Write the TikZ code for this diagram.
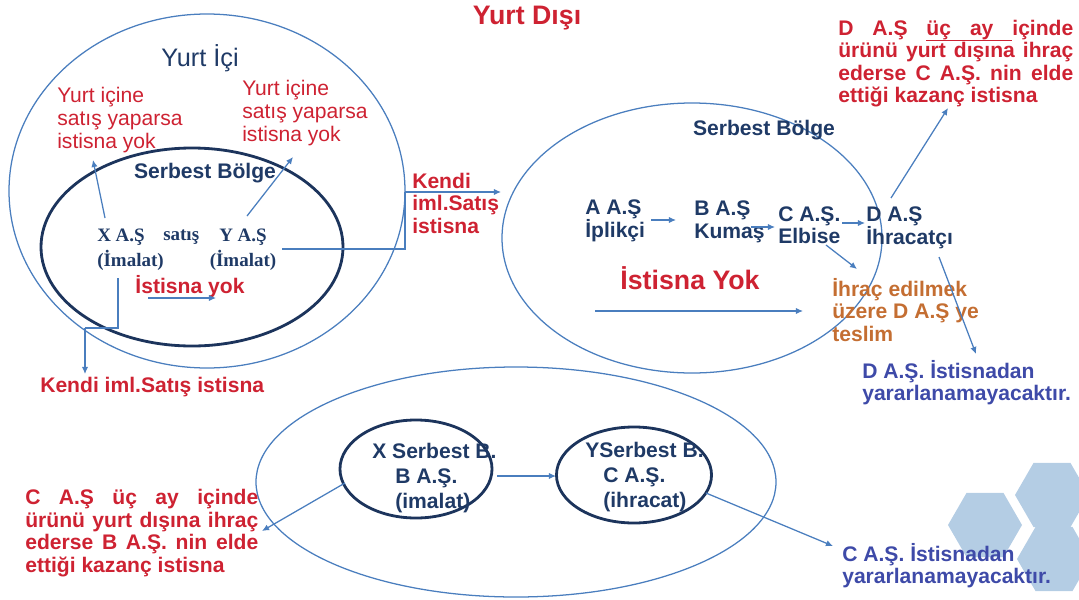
\documentclass[tikz,border=0pt]{standalone}
\usepackage{fontspec}
\setmainfont{Liberation Sans}
\newfontfamily\serifb{Liberation Serif}
\usetikzlibrary{arrows.meta,shapes.geometric}
\definecolor{lineblue}{RGB}{74,126,190}
\definecolor{navyc}{RGB}{28,52,92}
\definecolor{navytxt}{RGB}{31,58,102}
\definecolor{redc}{RGB}{206,34,50}
\definecolor{orangec}{RGB}{196,110,50}
\definecolor{purpc}{RGB}{62,74,168}
\definecolor{hexc}{RGB}{180,205,228}
\newsavebox\myulbox
\newcommand\ulw[1]{\sbox\myulbox{#1}\rlap{\rule[-4pt]{\wd\myulbox}{0.8pt}}\usebox\myulbox}
\newcommand\ulsp{\leaders\hrule height -3.2pt depth 4pt\hskip\fontdimen2\font plus\fontdimen3\font minus\fontdimen4\font\relax}
\tikzset{
  arr/.style={draw=lineblue, line width=0.9pt, -{Latex[length=5pt,width=4.5pt]}},
  ln/.style={draw=lineblue, line width=0.9pt},
  txt/.style={inner sep=0pt, align=left},
  redb/.style={txt, text=redc, font=\bfseries\fontsize{15pt}{16pt}\selectfont},
  redr/.style={txt, text=redc, font=\fontsize{15pt}{16.4pt}\selectfont},
  navyb/.style={txt, text=navytxt, font=\bfseries\fontsize{15pt}{16pt}\selectfont},
  navyt/.style={txt, text=navytxt, font=\bfseries\fontsize{15pt}{16pt}\selectfont},
  navyell/.style={txt, text=navytxt, font=\bfseries\fontsize{15pt}{17.8pt}\selectfont},
  serb/.style={txt, text=navytxt, font=\serifb\bfseries\fontsize{13.5pt}{17.8pt}\selectfont},
  orangeb/.style={txt, text=orangec, font=\bfseries\fontsize{15pt}{16pt}\selectfont},
  purpb/.style={txt, text=purpc, font=\bfseries\fontsize{15pt}{15.7pt}\selectfont},
  smallell/.style={draw=navyc, line width=2pt, ellipse, inner sep=0pt},
}
\begin{document}
\begin{tikzpicture}[x=0.025cm,y=-0.025cm]
\useasboundingbox (0,0) rectangle (1079,599);
% hexagons
\foreach \cx/\cy in {985/525,1052/495,1054/559}
  \fill[hexc] (\cx,\cy) +(0:37) -- +(60:37) -- +(120:37) -- +(180:37) -- +(240:37) -- +(300:37) -- cycle;
% big ellipses
\draw[ln] (207,191) ellipse [x radius=198, y radius=177];
\draw[draw=navyc, line width=2pt] (192,247) ellipse [x radius=151, y radius=99];
\draw[ln] (692,238) ellipse [x radius=190, y radius=135];
\draw[ln] (516,482) ellipse [x radius=260, y radius=115];

% ---------- left part
\node[txt, text=redc, font=\bfseries\fontsize{19pt}{21pt}\selectfont] (yd) at (527,18) {Yurt Dışı};
\node[txt, text=navytxt, font=\fontsize{18pt}{20pt}\selectfont] (yi) at (200,58) {Yurt İçi};
\node[redr, anchor=west] (ryl) at (57,120) {Yurt içine\\satış yaparsa\\istisna yok};
\node[redr, anchor=west] (ryr) at (242,113) {Yurt içine\\satış yaparsa\\istisna yok};
\node[navyb] (sb1) at (205,173) {Serbest Bölge};
\node[serb, anchor=west] (xas) at (97,250) {X A.Ş\\(İmalat)};
\node[serb, anchor=west] (sat) at (163,237) {satış};
\node[serb, align=center] (yas) at (243,250) {Y A.Ş\\(İmalat)};
\node[redb] (isy) at (190,287) {İstisna yok};
\node[redb, anchor=west] (k1) at (40,387) {Kendi iml.Satış istisna};
\node[redb, anchor=west] (k2) at (412,203) {Kendi\\iml.Satış\\istisna};

\coordinate (xup0) at (105,218); \coordinate (xup1) at (93,160);
\coordinate (yup0) at (247,216); \coordinate (yup1) at (293,157);
\coordinate (iy0) at (148,298); \coordinate (iy1) at (216,298);
\coordinate (xd0) at (118,278); \coordinate (xd1) at (118,328); \coordinate (xd2) at (85,328); \coordinate (xd3) at (85,374);
\coordinate (yr0) at (282,249); \coordinate (yr1) at (405,249); \coordinate (yr2) at (405,192); \coordinate (yr3) at (501,192);
\draw[arr] (xup0) -- (xup1);
\draw[arr] (yup0) -- (yup1);
\draw[arr] (iy0) -- (iy1);
\draw[ln] (xd0) -- (xd1) -- (xd2);
\draw[arr] (xd2) -- (xd3);
\draw[ln] (yr0) -- (yr1) -- (yr2);
\draw[arr] (yr2) -- (yr3);

% ---------- right part
\node[navyb] (sb2) at (764,130) {Serbest Bölge};
\node[navyt, anchor=west] (na) at (585,221) {A A.Ş\\İplikçi};
\node[navyt, anchor=west] (nb) at (694,222) {B A.Ş\\Kumaş};
\node[navyt, anchor=west] (nc) at (778,225) {C A.Ş.\\Elbise};
\node[navyt, anchor=west] (nd) at (866,228) {D A.Ş\\İhracatçı};
\node[txt, text=redc, font=\bfseries\fontsize{19pt}{21pt}\selectfont] (iyk) at (690,278) {İstisna Yok};
\node[orangeb, anchor=west] (ih) at (832,310) {İhraç edilmek\\üzere D A.Ş ye\\teslim};
\node[redb, anchor=west] (tr) at (838,63.5) {\makebox[5.875cm][s]{D A.Ş \ulw{üç}\ulsp\ulw{ay}\ulsp içinde}\\\makebox[5.875cm][s]{ürünü yurt dışına ihraç}\\\makebox[5.875cm][s]{ederse C A.Ş. nin elde}\\ettiği kazanç istisna};
\node[purpb, anchor=west] (dis) at (862,383) {D A.Ş. İstisnadan\\yararlanamayacaktır.};

\coordinate (ab0) at (651,220); \coordinate (ab1) at (676,220);
\coordinate (bc0) at (751,227); \coordinate (bc1) at (775,227);
\coordinate (cd0) at (842,223); \coordinate (cd1) at (865,223);
\coordinate (co0) at (826,245); \coordinate (co1) at (857,269);
\coordinate (du0) at (891,198); \coordinate (du1) at (948,108);
\coordinate (dd0) at (939,257); \coordinate (dd1) at (976,354);
\coordinate (lo0) at (595,311); \coordinate (lo1) at (803,311);
\draw[arr] (ab0) -- (ab1);
\draw[arr] (bc0) -- (bc1);
\draw[arr] (cd0) -- (cd1);
\draw[arr] (co0) -- (co1);
\draw[arr] (du0) -- (du1);
\draw[arr] (dd0) -- (dd1);
\draw[arr] (lo0) -- (lo1);

% ---------- bottom part
\node[smallell, minimum width=3.8cm, minimum height=2.45cm] (xsb) at (416,469) {};
\node[smallell, minimum width=3.875cm, minimum height=2.4cm] (ysb) at (634,475) {};
\node[navyell, anchor=west] (xst) at (372,478) {X Serbest B.\\\hspace*{0.575cm}B A.Ş.\\\hspace*{0.575cm}(imalat)};
\node[navyell, anchor=west] (yst) at (585,477) {YSerbest B.\\\hspace*{0.45cm}C A.Ş.\\\hspace*{0.45cm}(ihracat)};
\node[redb, anchor=west] (bl) at (25,533) {\makebox[5.825cm][s]{C A.Ş üç ay içinde}\\\makebox[5.825cm][s]{ürünü yurt dışına ihraç}\\\makebox[5.825cm][s]{ederse B A.Ş. nin elde}\\ettiği kazanç istisna};
\node[purpb, anchor=west] (cis) at (842,566) {C A.Ş. İstisnadan\\yararlanamayacaktır.};

\coordinate (xy0) at (497,476); \coordinate (xy1) at (556,476);
\coordinate (xl0) at (345,483); \coordinate (xl1) at (262,531);
\coordinate (yl0) at (706,493); \coordinate (yl1) at (833,546);
\draw[arr] (xy0) -- (xy1);
\draw[arr] (xl0) -- (xl1);
\draw[arr] (yl0) -- (yl1);
\end{tikzpicture}
\end{document}
